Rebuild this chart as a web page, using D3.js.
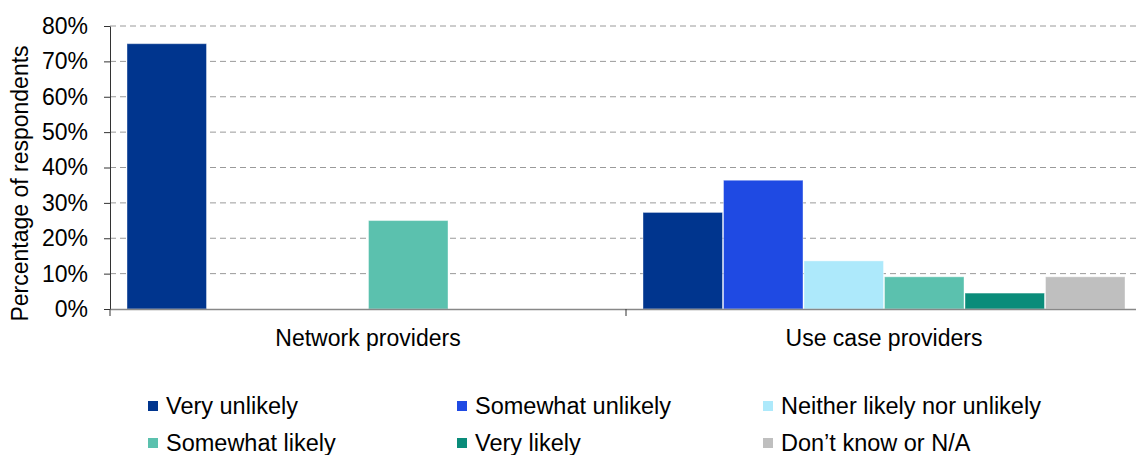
<!DOCTYPE html>
<html lang="en">
<head>
<meta charset="UTF-8">
<title>Likelihood by provider type</title>
<script src="https://d3js.org/d3.v7.min.js"></script>
<style>
  body { margin: 0; background: #fff; font-family: 'Liberation Sans', Arial, sans-serif; }
  svg text { fill: #000; }
</style>
</head>
<body>
<div id="chart"></div>
<script>
// data
const groups = ["Network providers", "Use case providers"];
const responses = ["Very unlikely", "Somewhat unlikely", "Neither likely nor unlikely",
                   "Somewhat likely", "Very likely", "Don\u2019t know or N/A"];
const networkValues = [75, 0, 0, 25, 0, 0];
const useCaseValues = [27.3, 36.4, 13.6, 9.1, 4.5, 9.1];
const yTicks = [0, 10, 20, 30, 40, 50, 60, 70, 80];
const colors = ["#00358e", "#1f4ae3", "#ade9fb", "#5bc1ae", "#0a8c7a", "#bfbfbf"];

const W = 1136, H = 455;
const margin = { top: 26, right: -6, bottom: 146, left: 110 };
const width = W - margin.left - margin.right;
const height = H - margin.top - margin.bottom;
const fontSize = 23;

const svg = d3.select("#chart").append("svg")
  .attr("width", W).attr("height", H);
const g = svg.append("g").attr("transform", `translate(${margin.left},${margin.top})`);

const x0 = d3.scaleBand().domain(groups).range([0, width]).paddingInner(0).paddingOuter(0);
const x1 = d3.scaleBand().domain(responses).range([16.5, x0.bandwidth() - 16.5]).padding(0);
const y = d3.scaleLinear().domain([0, 80]).range([height, 0]);

// gridlines
g.selectAll(".grid").data(yTicks.filter(d => d > 0)).enter().append("line")
  .attr("x1", 0).attr("x2", width)
  .attr("y1", d => y(d)).attr("y2", d => y(d))
  .attr("stroke", "#9a9a9a").attr("stroke-width", 1)
  .attr("stroke-dasharray", "6,4");

// bars
const rows = [networkValues, useCaseValues];
groups.forEach((grp, gi) => {
  g.append("g").attr("transform", `translate(${x0(grp)},0)`)
    .selectAll("rect").data(responses.map((r, i) => ({ r, v: rows[gi][i], i })).filter(d => d.v > 0))
    .enter().append("rect")
    .attr("x", d => x1(d.r) + 0.5)
    .attr("width", x1.bandwidth() - 1)
    .attr("y", d => y(d.v))
    .attr("height", d => height - y(d.v))
    .attr("fill", d => colors[d.i])
    .attr("stroke", "#ffffff").attr("stroke-opacity", 0.4).attr("stroke-width", 1);
});

// y axis
const yAxis = g.append("g")
  .call(d3.axisLeft(y).tickValues(yTicks).tickFormat(d => d + "%").tickSize(6).tickSizeOuter(0));
yAxis.select(".domain").attr("stroke", "#333");
yAxis.selectAll(".tick line").attr("stroke", "#333");
yAxis.selectAll("text").attr("font-size", fontSize).attr("x", -22)
  .style("font-family", "'Liberation Sans', Arial, sans-serif");

// x axis
const xAxis = g.append("g").attr("transform", `translate(0,${height})`)
  .call(d3.axisBottom(x0).tickSize(0).tickSizeOuter(0));
xAxis.select(".domain").attr("stroke", "#888").attr("stroke-width", 1.5);
xAxis.selectAll("text").attr("font-size", fontSize).attr("y", 37).attr("dy", 0)
  .style("font-family", "'Liberation Sans', Arial, sans-serif");
// boundary ticks
g.selectAll(".xtick").data([0, x0.bandwidth(), width]).enter().append("line")
  .attr("x1", d => d).attr("x2", d => d)
  .attr("y1", height).attr("y2", height + 7)
  .attr("stroke", "#333");

// y title
svg.append("text")
  .attr("transform", `translate(28,${margin.top + height / 2 + 16}) rotate(-90)`)
  .attr("text-anchor", "middle")
  .attr("font-size", fontSize)
  .text("Percentage of respondents");

// legend
const legendX = [148, 457, 763];
const legendY = [414, 451];
const legend = svg.append("g");
responses.forEach((r, i) => {
  const lx = legendX[i % 3], ly = legendY[Math.floor(i / 3)];
  legend.append("rect")
    .attr("x", lx).attr("y", ly - 13).attr("width", 10).attr("height", 10)
    .attr("fill", colors[i]);
  legend.append("text")
    .attr("x", lx + 18).attr("y", ly)
    .attr("font-size", 23.5)
    .text(r);
});
</script>
</body>
</html>
